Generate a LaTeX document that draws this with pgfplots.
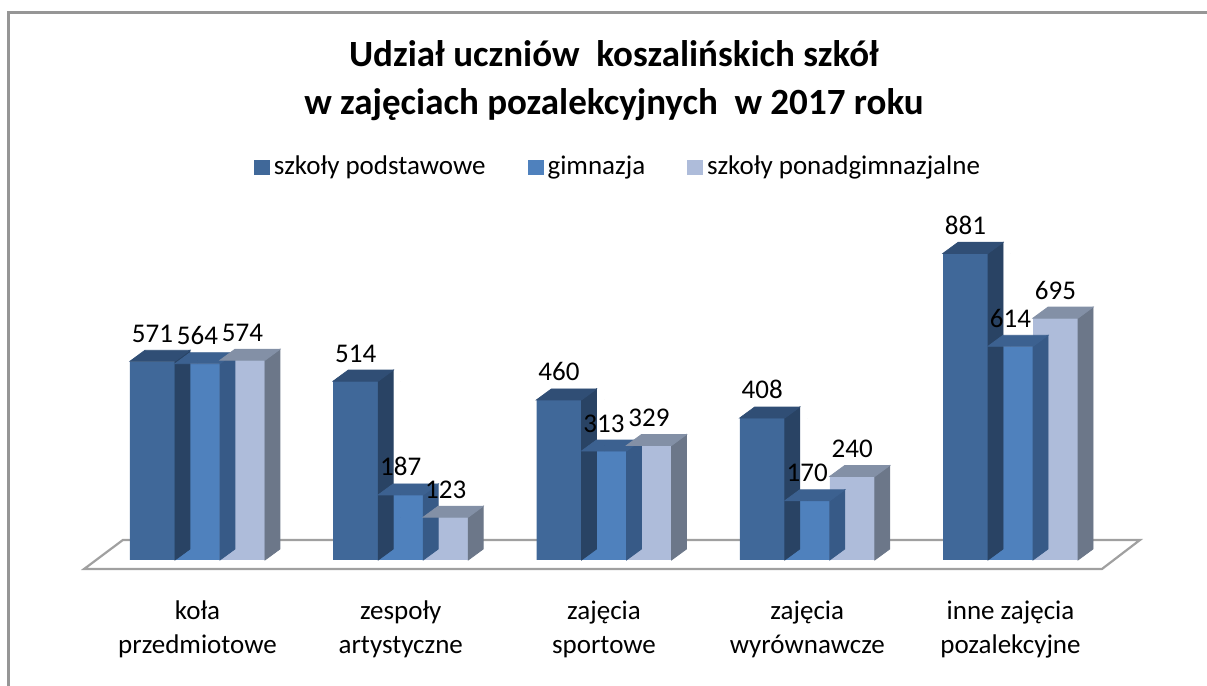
\documentclass[border=0pt]{standalone}
\usepackage{pgfplots}
\pgfplotsset{compat=1.18}
\usepackage{pgfplotstable}
\usepackage{fontspec}
\setmainfont{Carlito}
\definecolor{c1f}{RGB}{64,104,153}
\definecolor{c1s}{RGB}{41,67,100}
\definecolor{c1t}{RGB}{48,78,117}
\definecolor{c2f}{RGB}{79,129,189}
\definecolor{c2s}{RGB}{55,90,135}
\definecolor{c2t}{RGB}{60,97,144}
\definecolor{c3f}{RGB}{174,188,218}
\definecolor{c3s}{RGB}{108,119,137}
\definecolor{c3t}{RGB}{131,144,166}
\definecolor{framec}{RGB}{150,150,150}
\definecolor{floorc}{RGB}{160,160,160}

\pgfplotstableread{
x v
0 571
1 514
2 460
3 408
4 881
}\tpod
\pgfplotstableread{
x v
0 564
1 187
2 313
3 170
4 614
}\tgim
\pgfplotstableread{
x v
0 574
1 123
2 329
3 240
4 695
}\tpon

\pgfplotsset{
  front/.style 2 args={ybar, bar width=22.5pt, bar shift=#1, fill=#2, draw=none,
    nodes near coords,
    every node near coord/.append style={xshift=#1},
    legend image code/.code={\fill[##1,draw=none] (1.5pt,-3.75pt) rectangle (9.5pt,3.75pt);}},
  depth/.style n args={3}{scatter, only marks, forget plot, mark=*, mark size=0pt,
    mark options={draw=none,fill=none},
    visualization depends on={rawy \as \barv},
    scatter/@pre marker code/.code={%
      \pgfmathsetmacro\hh{\barv*0.174}%
      \fill[#2] (#1+11.25pt,0pt) -- (#1+11.25pt,-\hh pt) -- (#1+18.75pt,-\hh pt+5.5pt) -- (#1+18.75pt,5.5pt) -- cycle;
      \fill[#3] (#1-11.25pt,0pt) -- (#1+11.25pt,0pt) -- (#1+18.75pt,5.5pt) -- (#1-3.75pt,5.5pt) -- cycle;
    },
    scatter/@post marker code/.code={}},
}

\begin{document}
\begin{tikzpicture}
\begin{axis}[
  x=101.625pt, y=0.174pt,
  xmin=-0.6, xmax=4.65, ymin=0, ymax=900,
  clip=false,
  axis line style={draw=none},
  tick style={draw=none},
  ytick=\empty,
  xtick={0,1,2,3,4},
  xticklabels={koła\\przedmiotowe, zespoły\\artystyczne, zajęcia\\sportowe, zajęcia\\wyrównawcze, inne zajęcia\\pozalekcyjne},
  xticklabel style={align=center, font=\fontsize{13.5}{17}\selectfont, yshift=-17pt},
  /pgf/number format/assume math mode=true,
  every node near coord/.append style={font=\fontsize{13.5}{15}\selectfont, anchor=base, inner sep=0pt, yshift=9.5pt, text=black},
  legend columns=3,
  legend style={draw=none, at={(0.5093,1.2544)}, anchor=center, font=\fontsize{13.5}{15}\selectfont,
    /tikz/every even column/.append style={column sep=19pt}},
]
\draw[floorc, line width=1.1pt] (axis cs:-0.558,-25.9) -- (axis cs:4.450,-25.9) -- (axis cs:4.637,57.5) -- (axis cs:-0.367,57.5) -- cycle;
\draw[framec, line width=1.5pt] (axis cs:-0.9284,-362.07) -- (axis cs:-0.9284,1573.9) -- (axis cs:4.9668,1573.9);
\node[align=center, font=\fontsize{18.5}{24}\selectfont\bfseries] at (axis cs:2.049,1376) {Udział uczniów~ koszalińskich szkół\\w zajęciach pozalekcyjnych~ w 2017 roku};

\addplot[front={-22.5pt}{c1f}] table[x=x,y=v] {\tpod};
\addlegendentry{szkoły podstawowe}
\addplot[depth={-22.5pt}{c1s}{c1t}] table[x=x,y=v] {\tpod};
\addplot[front={0pt}{c2f}] table[x=x,y=v] {\tgim};
\addlegendentry{gimnazja}
\addplot[depth={0pt}{c2s}{c2t}] table[x=x,y=v] {\tgim};
\addplot[front={22.5pt}{c3f}] table[x=x,y=v] {\tpon};
\addlegendentry{szkoły ponadgimnazjalne}
\addplot[depth={22.5pt}{c3s}{c3t}] table[x=x,y=v] {\tpon};

\coordinate (BL) at (axis cs:-0.97171,-362.07);
\coordinate (TR) at (axis cs:4.96679,1609.2);
\end{axis}
\pgfresetboundingbox
\path[use as bounding box] (BL) rectangle (TR);
\end{tikzpicture}
\end{document}
